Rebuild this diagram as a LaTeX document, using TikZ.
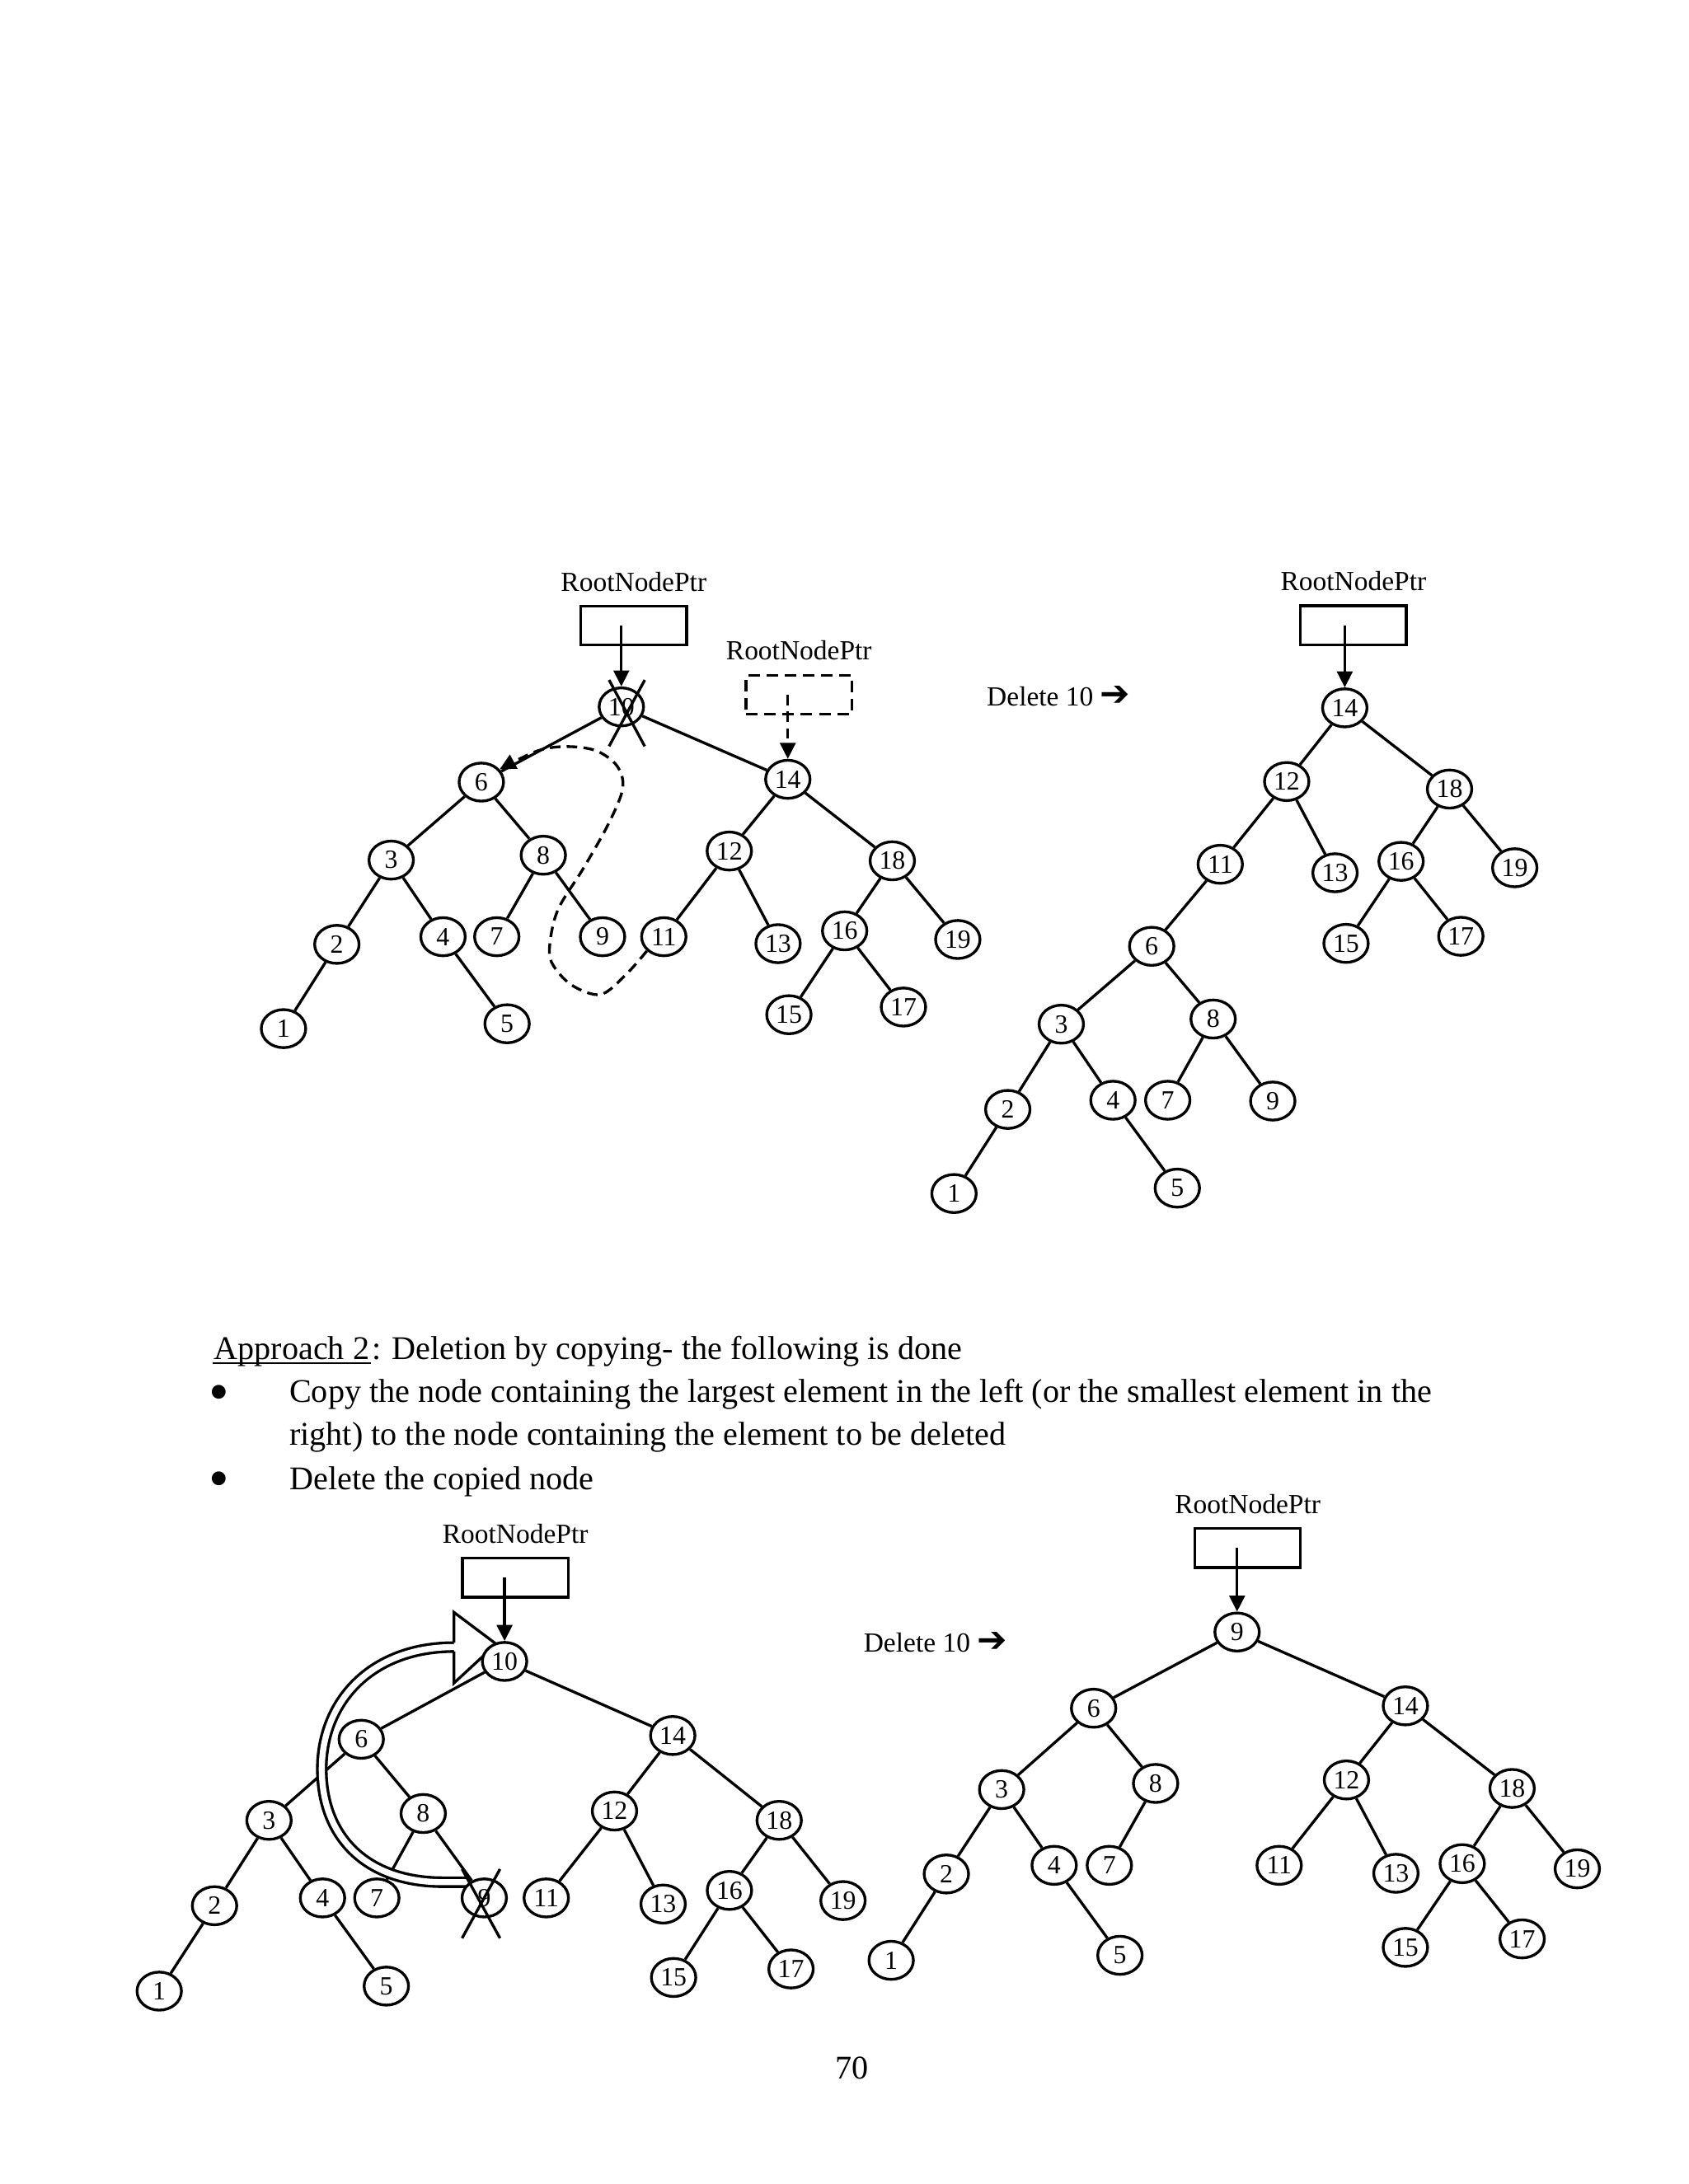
\documentclass[tikz,border=0pt]{standalone}
\usepackage{fontspec}
\setmainfont{Liberation Serif}
\newfontfamily\dingfont{DejaVu Sans}
\usetikzlibrary{arrows.meta,positioning,shapes.geometric,backgrounds}
\tikzset{
  treenode/.style={ellipse,draw,fill=white,inner sep=0pt,minimum width=16.1pt,
    minimum height=13.8pt,font=\fontsize{9.5}{11}\selectfont},
  ptrbox/.style={draw,inner sep=0pt,minimum width=38.3pt,minimum height=14.1pt},
  ghostbox/.style={ptrbox,dash pattern=on 4.2pt off 2.4pt},
  ptrlabel/.style={inner sep=0pt,font=\fontsize{10}{12}\selectfont},
  ptrarrow/.style={-{Triangle[length=5.8pt,width=5.6pt]}},
  ghostarrow/.style={ptrarrow,dash pattern=on 3.8pt off 2.3pt},
  link/.style={line width=1pt},
  hollowshaft/.style={line width=1pt,double,double distance=2.2pt},
  bodytext/.style={inner sep=0pt,anchor=base west,font=\fontsize{12}{14}\selectfont},
  bulletmark/.style={inner sep=0pt,anchor=base west,font=\fontsize{21}{21}\selectfont}
}

\begin{document}
\begin{tikzpicture}[x=0.5049pt,y=-0.5049pt,line width=1pt]
  \useasboundingbox (0,0) rectangle (1212,1568);

  % tree before deleting 10 (approach 1)
  \foreach \v/\x/\y in {10/446/507.5,6/345.5/561.5,14/565.5/559.5,3/280.8/617.5,
      8/390/614,12/523.5/611,18/640.5/618,2/241.8/678,4/318/672.5,7/356.6/672.5,
      9/432.5/672.5,11/476.5/672.5,13/558.5/677.5,16/606.3/668.3,19/687.5/674.5,
      1/203.5/738.5,5/364/735,15/566.3/728.5,17/648.5/723}{
    \node[treenode] (nA\v) at (\x,\y) {\v};
  }
  \node[ptrbox] (boxA) at (454.9,449.2) {};
  \node[ptrlabel,above=4.4pt of boxA] (labA) {RootNodePtr};
  \node[ghostbox] (ghostA) at (573.5,498.7) {};
  \node[ptrlabel,above=4.4pt of ghostA] (labghost) {RootNodePtr};
  \draw[ptrarrow] (nA10 |- boxA) -- (nA10);
  \draw[ghostarrow] (nA14 |- ghostA) -- (nA14);
  \draw (437.2,488.2) -- (462.8,535.8) (462.8,488.2) -- (437.2,535.8);
  \draw[ghostarrow] plot[smooth,tension=0.55] coordinates {(nA11.220) (449,700)
    (431,714) (410,707) (396,691) (395,675) (401,652) (419,623) (437,591)
    (447,566) (443,550) (428,539) (407,536) (386,539) (nA6.35)};

  \node[ptrlabel,anchor=base west] (delB) at (707.4,506.7)
    {Delete 10 {\dingfont\bfseries\fontsize{13}{13}\selectfont ➔}};

  % tree after deleting 10 by merging
  \foreach \v/\x/\y in {14/965.3/508.2,12/923.6/561.1,18/1040.5/566.5,11/875.9/620.5,
      13/958.3/626.6,16/1005.7/618.4,19/1087.3/623,15/966.2/677.3,17/1048.6/672.2,
      6/826.7/679.4,3/761.8/735.3,8/870.8/731.6,2/723.4/796.5,4/798.9/789.9,
      7/838.2/789.9,9/913.6/790.5,1/684.8/856.9,5/845.1/853}{
    \node[treenode] (nB\v) at (\x,\y) {\v};
  }
  \node[ptrbox] (boxB) at (971.5,448.9) {};
  \node[ptrlabel,above=4.4pt of boxB] (labB) {RootNodePtr};
  \draw[ptrarrow] (nB14 |- boxB) -- (nB14);

  % approach 2 text
  \node[bodytext] (appr) at (152.6,976.1) {Approach 2};
  \node[bodytext] (apprrest) at (appr.base east) {: Deletion by copying- the following is done};
  \draw[line width=0.6pt] ([yshift=-1.2pt]appr.base west) -- ([yshift=-1.2pt]appr.base east);
  \node[bulletmark] (dotA) at (149,1013) {•};
  \node[bodytext] (itemA) at (206.8,1007) {Copy the node containing the largest element in the left (or the smallest element in the};
  \node[bodytext] (itemAb) at (206.8,1037.6) {right) to the node containing the element to be deleted};
  \node[bulletmark] (dotB) at (149,1075.2) {•};
  \node[bodytext] (itemB) at (206.8,1069.2) {Delete the copied node};

  % tree before deleting 10 (approach 2)
  \foreach \v/\x/\y in {10/362.2/1192.8,6/259.3/1248.7,14/482.9/1246,3/193.1/1306.9,
      8/303.8/1302,12/441.1/1300.2,18/559.3/1306.9,2/154/1368.2,4/231.5/1362.6,
      7/270.5/1362.6,9/347.6/1362.6,11/392.1/1362.6,13/476/1367,16/523.6/1357.2,
      19/605.1/1364.5,1/114.3/1429.5,5/277.3/1425.9,15/483.5/1419.7,17/567.8/1413.6}{
    \node[treenode] (nC\v) at (\x,\y) {\v};
  }
  \node[ptrbox] (boxC) at (369.9,1132.7) {};
  \node[ptrlabel,above=4.4pt of boxC] (labC) {RootNodePtr};
  \draw[ptrarrow] (nC10 |- boxC) -- (nC10);
  \draw (331.7,1341.9) -- (358.9,1391.5) (358.9,1341.9) -- (331.7,1391.5);

  \node[ptrlabel,anchor=base west] (delD) at (619,1186)
    {Delete 10 {\dingfont\bfseries\fontsize{13}{13}\selectfont ➔}};

  % tree after copying 9 into the root
  \foreach \v/\x/\y in {9/888/1171.7,6/785/1226.4,14/1008.8/1224.7,3/719/1284.8,
      8/829.5/1280.4,12/966.5/1277.9,18/1085.4/1284,2/679.3/1345.4,4/756.7/1339.2,
      7/796.3/1339.2,11/918.2/1339.2,13/1002/1344.9,16/1049.6/1338,19/1132.2/1341.7,
      1/639.7/1407.4,5/803.9/1403.8,15/1008.8/1398.1,17/1092.6/1392}{
    \node[treenode] (nD\v) at (\x,\y) {\v};
  }
  \node[ptrbox] (boxD) at (895.6,1111.4) {};
  \node[ptrlabel,above=4.4pt of boxD] (labD) {RootNodePtr};
  \draw[ptrarrow] (nD9 |- boxD) -- (nD9);

  \node[bodytext,anchor=base] (pageno) at (611.5,1492.3) {70};

  % links, kept under the nodes
  \begin{scope}[on background layer]
  \begin{scope}[line width=1pt]
    \fill[white] (0,0) rectangle (1212,1568);
    \foreach \a/\b in {10/6,10/14,6/3,6/8,3/2,3/4,2/1,4/5,8/7,8/9,14/12,14/18,
        12/11,12/13,18/16,18/19,16/15,16/17}{
      \draw[link] (nA\a) -- (nA\b);
      \draw[link] (nC\a) -- (nC\b);
    }
    \foreach \a/\b in {14/12,14/18,12/11,12/13,18/16,18/19,16/15,16/17,11/6,
        6/3,6/8,3/2,3/4,2/1,4/5,8/7,8/9}{
      \draw[link] (nB\a) -- (nB\b);
    }
    \foreach \a/\b in {9/6,9/14,6/3,6/8,3/2,3/4,2/1,4/5,8/7,14/12,14/18,
        12/11,12/13,18/16,18/19,16/15,16/17}{
      \draw[link] (nD\a) -- (nD\b);
    }
    % hollow copy arrow from 9 up to 10
    \draw[hollowshaft] (336,1351.3) -- (318,1351.3) .. controls (262,1351.3) and (231,1318)
      .. (231,1270) .. controls (231,1222) and (266,1182.5) .. (325.9,1182.5);
    \fill[white] (325.9,1157.6) -- (356.2,1180.3) -- (325.9,1208.3) -- cycle;
    \draw[link,line join=miter] (325.9,1179.3) -- (325.9,1157.6) -- (356.2,1180.3)
      -- (325.9,1208.3) -- (325.9,1185.7);
  \end{scope}
  \end{scope}
\end{tikzpicture}
\end{document}
